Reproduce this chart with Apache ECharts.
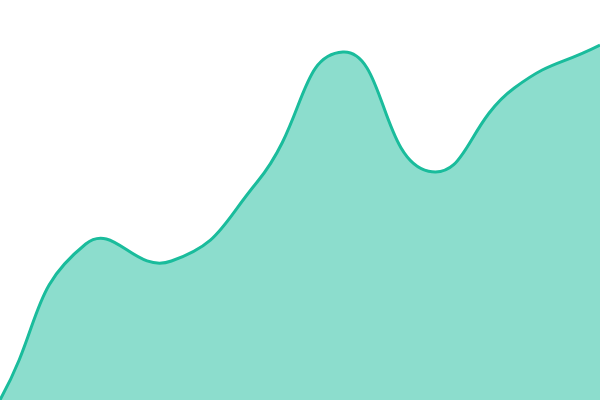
<!DOCTYPE html>
<html><head><meta charset="utf-8">
<script src="https://cdn.jsdelivr.net/npm/echarts@6/dist/echarts.min.js"></script>
<style>html,body{margin:0;padding:0;background:#fff}#c{width:600px;height:400px}</style>
</head><body><div id="c"></div>
<script>
var categories = ['1','2','3','4','5','6','7','8'];
var values = [0, 39, 34.75, 54.5, 87, 57.2, 78, 88.75];
var SMOOTH = 0.5;

function smoothPath(pts, closeY) {
  var n = pts.length, cps = [];
  for (var i = 0; i < n; i++) {
    var p = pts[i], prev = pts[i - 1] || p, next = pts[i + 1] || p;
    var vx = (next[0] - prev[0]) * SMOOTH, vy = (next[1] - prev[1]) * SMOOTH;
    var d0 = Math.hypot(p[0] - prev[0], p[1] - prev[1]);
    var d1 = Math.hypot(next[0] - p[0], next[1] - p[1]);
    var s = d0 + d1; if (s) { d0 /= s; d1 /= s; }
    cps.push({c0: [p[0] - vx * d0, p[1] - vy * d0], c1: [p[0] + vx * d1, p[1] + vy * d1]});
  }
  var d = 'M' + pts[0][0] + ' ' + pts[0][1];
  for (var j = 0; j < n - 1; j++) {
    var a = cps[j].c1, b = cps[j + 1].c0, q = pts[j + 1];
    d += ' C' + a[0] + ' ' + a[1] + ' ' + b[0] + ' ' + b[1] + ' ' + q[0] + ' ' + q[1];
  }
  if (closeY != null) {
    d += ' L' + pts[n - 1][0] + ' ' + closeY + ' L' + pts[0][0] + ' ' + closeY + ' Z';
  }
  return d;
}

var chart = echarts.init(document.getElementById('c'));
chart.setOption({
  animation: false,
  grid: {left: 0, right: 0, top: 0, bottom: 0},
  xAxis: {type: 'category', data: categories, boundaryGap: false, show: false},
  yAxis: {type: 'value', min: 0, max: 100, show: false},
  series: [{
    type: 'custom',
    data: values.map(function (v, i) { return [i, v]; }),
    renderItem: function (params, api) {
      if (params.dataIndex !== 0) return null;
      var pts = values.map(function (v, i) { return api.coord([i, v]); });
      var base = api.coord([0, 0])[1];
      return {
        type: 'group',
        children: [
          {type: 'path', shape: {pathData: smoothPath(pts, base)},
           style: {fill: 'rgba(26,188,156,0.5)', stroke: null}},
          {type: 'path', shape: {pathData: smoothPath(pts, null)},
           style: {fill: null, stroke: '#1abc9c', lineWidth: 3, lineJoin: 'round'}}
        ]
      };
    }
  }]
});
</script></body></html>
